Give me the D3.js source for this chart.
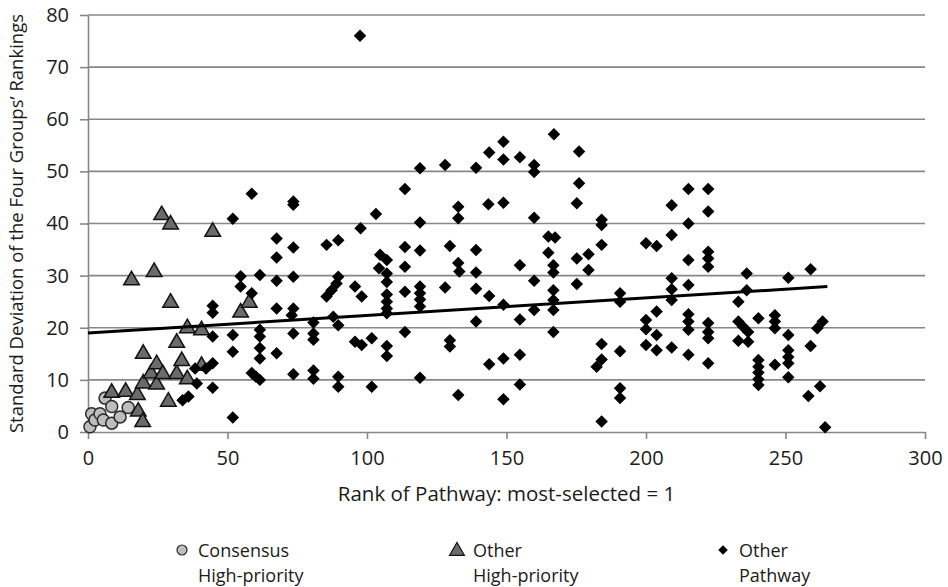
<!DOCTYPE html>
<html>
<head>
<meta charset="utf-8">
<script src="https://cdn.jsdelivr.net/npm/d3@7/dist/d3.min.js"></script>
<style>
  body { margin: 0; background: #fff; }
  text { font-family: "Open Sans", sans-serif; fill: #1b1b1b; }
</style>
</head>
<body>
<div id="chart"></div>
<script>
// [rank, standard deviation]
const consensusPoints = [
  [0.7, 1.0], [1.3, 3.5], [2.5, 2.3], [4.3, 3.5], [5.5, 2.3], [6.1, 6.5],
  [8.5, 4.9], [8.5, 1.7], [11.5, 2.9], [14.4, 4.7]
];

const otherHighPoints = [
  [8.5, 7.7], [13.5, 7.9], [15.6, 29.3], [17.7, 7.3], [18.0, 4.1], [19.6, 2.1],
  [19.8, 15.2], [19.8, 9.5], [22.6, 11.4], [23.7, 30.9], [24.6, 13.2], [24.6, 9.3],
  [26.4, 41.8], [26.8, 11.3], [28.8, 6.0], [29.6, 40.0], [29.6, 25.0], [31.8, 17.3],
  [31.8, 11.3], [33.6, 13.8], [35.6, 20.1], [35.6, 10.3], [40.7, 19.7], [40.7, 12.9],
  [44.7, 38.6], [54.7, 23.1], [57.8, 25.0]
];

const otherPathwayPoints = [
  [33.9, 6.1], [36.0, 6.8], [38.4, 12.2], [39.0, 9.3], [42.3, 12.2], [44.7, 24.2],
  [44.7, 22.9], [44.7, 18.3], [44.7, 13.2], [44.7, 8.5],
  [51.9, 40.9], [51.9, 18.6], [51.9, 15.4], [51.9, 2.8], [58.7, 45.7], [58.7, 26.6],
  [58.7, 11.3], [54.7, 29.9], [54.7, 27.9], [61.6, 30.1], [61.6, 19.6], [61.6, 18.3],
  [61.6, 16.1], [61.6, 14.1], [60.2, 10.6], [61.6, 10.0], [67.6, 37.1], [67.6, 33.5],
  [67.6, 29.0], [67.6, 23.7], [67.6, 15.1], [73.6, 44.2], [73.6, 43.6], [73.6, 35.4],
  [73.6, 29.8], [73.6, 23.7], [73.0, 22.4], [73.6, 18.9], [73.6, 11.1], [80.8, 21.0],
  [80.8, 18.9], [80.8, 17.7], [80.8, 11.8], [80.8, 10.2], [85.5, 35.9], [89.7, 36.8],
  [89.7, 29.8], [89.1, 28.5], [87.3, 27.2], [85.5, 26.0], [87.9, 22.1], [89.7, 20.5],
  [89.7, 10.6], [89.7, 8.7], [95.7, 27.9], [98.1, 26.0], [95.7, 17.3], [98.1, 16.7],
  [97.7, 39.1], [97.5, 76.0], [101.7, 18.0], [101.7, 8.7], [103.2, 41.8],
  [148.9, 55.7], [143.8, 53.6], [148.9, 52.3], [154.8, 52.7], [119.0, 50.6], [128.0, 51.2],
  [139.1, 50.7], [113.6, 46.6], [132.7, 43.2], [132.7, 41.0], [143.5, 43.7], [148.9, 44.0],
  [119.0, 40.2], [104.7, 34.0], [107.1, 33.0], [104.3, 31.4], [107.1, 30.4], [107.1, 28.8],
  [113.6, 35.5], [119.0, 34.8], [113.6, 31.7], [129.7, 35.7], [132.7, 32.4], [133.1, 30.8],
  [139.1, 34.9], [139.1, 30.6], [154.8, 32.0], [107.1, 26.4], [107.1, 25.0], [107.1, 23.7],
  [107.1, 22.8], [113.6, 26.9], [119.0, 27.9], [119.0, 26.6], [119.0, 25.4], [119.0, 24.1],
  [128.0, 27.7], [139.1, 27.5], [143.8, 26.1], [148.9, 24.4], [139.1, 21.2], [154.8, 21.6],
  [107.1, 16.5], [107.1, 14.6], [113.6, 19.2], [129.7, 17.6], [129.7, 16.4], [143.8, 13.0],
  [148.9, 14.1], [154.8, 14.8], [119.0, 10.4], [132.7, 7.1], [148.9, 6.3], [154.8, 9.1],
  [167.0, 57.1], [159.9, 51.2], [159.9, 49.9], [176.0, 53.8], [176.0, 47.7], [175.2, 43.9],
  [159.9, 41.1], [184.1, 40.7], [184.1, 39.7], [209.2, 43.5], [165.0, 37.5], [167.4, 37.3],
  [184.1, 35.9], [209.2, 37.8], [200.0, 36.2], [203.8, 35.7], [165.0, 34.4], [166.8, 32.0],
  [166.8, 30.6], [175.2, 33.3], [179.4, 34.1], [179.4, 31.1], [159.9, 29.0], [175.2, 28.4],
  [209.2, 29.5], [166.8, 27.2], [166.8, 25.3], [166.8, 23.4], [190.7, 26.6], [190.7, 25.0],
  [209.2, 27.4], [209.2, 25.3], [159.9, 23.4], [200.0, 21.5], [203.8, 23.1], [200.0, 19.7],
  [203.8, 18.6], [166.8, 19.2], [200.0, 16.7], [203.8, 15.7], [209.2, 16.2], [184.1, 16.9],
  [190.7, 15.5], [184.1, 13.9], [182.3, 12.5], [190.7, 8.4], [190.7, 6.5], [184.1, 2.0],
  [215.2, 46.6], [222.3, 46.6], [222.3, 42.3], [215.2, 40.0], [215.2, 33.0], [222.3, 34.6],
  [222.3, 33.3], [222.3, 31.7], [215.2, 28.2], [236.1, 30.4], [236.1, 27.2], [233.1, 25.0],
  [251.0, 29.6], [215.2, 22.6], [215.2, 21.2], [215.2, 19.6], [222.3, 20.9], [222.3, 19.2],
  [222.3, 18.0], [215.2, 14.8], [222.3, 13.2], [233.1, 21.2], [234.8, 20.2], [236.6, 19.2],
  [233.1, 17.5], [236.6, 17.3], [240.3, 21.8], [246.2, 22.4], [246.2, 21.2], [246.2, 19.9],
  [251.0, 18.6], [251.0, 15.7], [251.0, 14.4], [251.0, 13.2], [251.0, 10.5], [246.2, 12.9],
  [240.3, 13.8], [240.3, 12.5], [240.3, 11.4], [240.3, 10.1], [240.3, 9.0],
  [259.0, 31.2], [263.3, 21.2], [261.4, 19.9], [259.0, 16.5], [262.4, 8.8], [258.2, 6.9],
  [264.2, 0.9]
];

// linear trend line end points, as drawn
const trendPoints = [[0, 19.0], [265, 27.9]];

const xTicks = [0, 50, 100, 150, 200, 250, 300];
const yTicks = [0, 10, 20, 30, 40, 50, 60, 70, 80];

const legendItems = [
  { lines: ["Consensus", "High-priority"], shape: "circle" },
  { lines: ["Other", "High-priority"], shape: "triangle" },
  { lines: ["Other", "Pathway"], shape: "diamond" }
];

const width = 948;
const height = 587;
const gridColor = "#878787";

const x = d3.scaleLinear().domain([0, 300]).range([88, 925]);
const y = d3.scaleLinear().domain([0, 80]).range([432, 15]);

const svg = d3.select("#chart")
  .append("svg")
  .attr("width", width)
  .attr("height", height)
  .attr("viewBox", [0, 0, width, height]);

// horizontal gridlines
svg.append("g")
  .selectAll("line")
  .data(yTicks.filter(d => d > 0))
  .join("line")
  .attr("x1", x(0))
  .attr("x2", x(300))
  .attr("y1", d => y(d))
  .attr("y2", d => y(d))
  .attr("stroke", gridColor)
  .attr("stroke-width", 1.6);

// axes
const xAxis = svg.append("g")
  .attr("transform", `translate(0,${y(0)})`)
  .call(d3.axisBottom(x).tickValues(xTicks).tickSize(7).tickSizeOuter(0).tickPadding(12));

const yAxis = svg.append("g")
  .attr("transform", `translate(${x(0)},0)`)
  .call(d3.axisLeft(y).tickValues(yTicks).tickSize(8).tickSizeOuter(0).tickPadding(11));

[xAxis, yAxis].forEach(g => {
  g.attr("font-family", null).attr("font-size", null);
  g.select(".domain").attr("stroke", gridColor).attr("stroke-width", 1.6);
  g.selectAll(".tick line").attr("stroke", gridColor).attr("stroke-width", 1.6);
  g.selectAll(".tick text").attr("fill", "#1b1b1b").style("font-size", "20px");
});

// axis titles
svg.append("text")
  .attr("x", (x(0) + x(300)) / 2)
  .attr("y", 501)
  .attr("text-anchor", "middle")
  .style("font-size", "20.5px")
  .text("Rank of Pathway: most-selected = 1");

svg.append("text")
  .attr("transform", `translate(23,${(y(0) + y(80)) / 2}) rotate(-90)`)
  .attr("text-anchor", "middle")
  .style("font-size", "18.5px")
  .text("Standard Deviation of the Four Groups\u2019 Rankings");

// markers
const diamond = d3.symbol(d3.symbolSquare, 78);
const triangle = d3.symbol(d3.symbolTriangle, 105);

svg.append("g")
  .selectAll("circle")
  .data(consensusPoints)
  .join("circle")
  .attr("cx", d => x(d[0]))
  .attr("cy", d => y(d[1]))
  .attr("r", 6)
  .attr("fill", "#bdbdbd")
  .attr("stroke", "#2a2a2a")
  .attr("stroke-width", 1.5);

svg.append("g")
  .selectAll("path")
  .data(otherHighPoints)
  .join("path")
  .attr("d", triangle)
  .attr("transform", d => `translate(${x(d[0])},${y(d[1]) + 1})`)
  .attr("fill", "#6b6b6b")
  .attr("stroke", "#111")
  .attr("stroke-width", 1.5);

svg.append("g")
  .selectAll("path")
  .data(otherPathwayPoints)
  .join("path")
  .attr("d", diamond)
  .attr("transform", d => `translate(${x(d[0])},${y(d[1])}) rotate(45)`)
  .attr("fill", "#000");

// trend line
svg.append("path")
  .datum(trendPoints)
  .attr("fill", "none")
  .attr("stroke", "#000")
  .attr("stroke-width", 3)
  .attr("d", d3.line().x(d => x(d[0])).y(d => y(d[1])));

// legend
const legendX = [182, 457, 723];
const legend = svg.append("g")
  .selectAll("g")
  .data(legendItems)
  .join("g")
  .attr("transform", (d, i) => `translate(${legendX[i]},550)`);

legend.filter(d => d.shape === "circle")
  .append("circle")
  .attr("r", 5)
  .attr("fill", "#bdbdbd")
  .attr("stroke", "#2a2a2a")
  .attr("stroke-width", 1.2);

legend.filter(d => d.shape === "triangle")
  .append("path")
  .attr("d", d3.symbol(d3.symbolTriangle, 95))
  .attr("transform", "translate(0,1)")
  .attr("fill", "#6b6b6b")
  .attr("stroke", "#111")
  .attr("stroke-width", 1.2);

legend.filter(d => d.shape === "diamond")
  .append("path")
  .attr("d", d3.symbol(d3.symbolSquare, 45))
  .attr("transform", "rotate(45)")
  .attr("fill", "#000");

// one text per line so the two rows don't share a box
legend.selectAll("text")
  .data(d => d.lines)
  .join("text")
  .attr("x", 16)
  .attr("y", (d, i) => 7 + i * 24.5)
  .style("font-size", "18px")
  .text(d => d);
</script>
</body>
</html>
